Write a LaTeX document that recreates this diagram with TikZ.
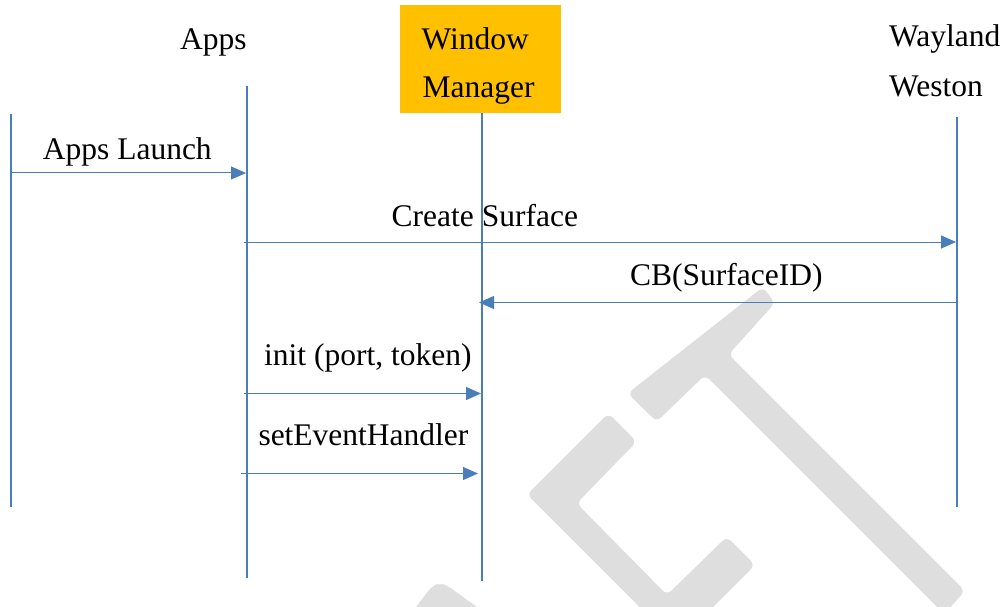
\documentclass[tikz,border=0pt]{standalone}
\usepackage{fontspec}
\setmainfont{Liberation Serif}
\usetikzlibrary{arrows.meta}
\definecolor{lineblue}{RGB}{74,126,187}
\definecolor{wmark}{RGB}{222,222,222}
\definecolor{wmyellow}{RGB}{255,192,0}
\begin{document}
\begin{tikzpicture}[x=1pt,y=-1pt,
  lifeline/.style={draw=lineblue,line width=2pt},
  msg/.style={draw=lineblue,line width=1pt,-{Triangle[length=15pt,width=13pt]}},
  lbl/.style={inner sep=0pt,anchor=base west,font=\fontsize{31.5}{38}\selectfont},
  wmk/.style={fill=wmark,rounded corners=6pt}]
\useasboundingbox (0,0) rectangle (1007,607);
% watermark
\begin{scope}
\clip (0,0) rectangle (1007,607);
\fill[wmk] (627.7,393.3) -- (656.7,421.7) -- (705,375) -- (944,614) -- (965,591)
  -- (728.5,354.5) -- (775,303) -- (763,287) -- cycle;
\fill[wmk] (608.3,413.3) -- (527,494.5) -- (652.5,620) -- (700,620) -- (755,565)
  -- (726.7,536.7) -- (667,595) -- (576.7,503.3) -- (636.7,441.7) -- cycle;
\fill[wmk] (410,615) -- (432,586) -- (440,583) -- (448,586) -- (488,615) -- cycle;
\end{scope}
% header box
\node[fill=wmyellow,minimum width=161pt,minimum height=107.7pt,inner sep=0pt]
  (wmbox) at (480.5,58.85) {};
% header labels
\node[lbl] (apps) at (180,50) {Apps};
\node[lbl] (wm1) at (421.5,50) {Window};
\node[lbl] (wm2) at (422.5,97.5) {Manager};
\node[lbl] (wl1) at (889,46.7) {Wayland};
\node[lbl] (wl2) at (889,96.7) {Weston};
% lifelines
\coordinate (L0t) at (10.5,114);  \coordinate (L0b) at (10.5,507);
\coordinate (APt) at (247,86);    \coordinate (APb) at (247,578);
\coordinate (WMt) at (482,112.7); \coordinate (WMb) at (482,581);
\coordinate (WLt) at (957,117);   \coordinate (WLb) at (957,507);
\draw[lifeline] (L0t) -- (L0b);
\draw[lifeline] (APt) -- (APb);
\draw[lifeline] (WMt) -- (WMb);
\draw[lifeline] (WLt) -- (WLb);
% message end points
\coordinate (m1a) at (10.5,173);  \coordinate (m1b) at (246,173);
\coordinate (m2a) at (244,242);   \coordinate (m2b) at (956,242);
\coordinate (m3a) at (957,302.5); \coordinate (m3b) at (479,302.5);
\coordinate (m4a) at (244,393.5); \coordinate (m4b) at (481,393.5);
\coordinate (m5a) at (241,473.5); \coordinate (m5b) at (478,473.5);
\draw[msg] (m1a) -- (m1b);
\draw[msg] (m2a) -- (m2b);
\draw[msg] (m3a) -- (m3b);
\draw[msg] (m4a) -- (m4b);
\draw[msg] (m5a) -- (m5b);
% message labels
\node[lbl] (t1) at (42.7,159.3) {Apps Launch};
\node[lbl] (t2) at (391.5,226.7) {Create Surface};
\node[lbl] (t3) at (630,285) {CB(SurfaceID)};
\node[lbl] (t4) at (264,365) {init (port, token)};
\node[lbl] (t5) at (258.3,445) {setEventHandler};
\end{tikzpicture}
\end{document}
